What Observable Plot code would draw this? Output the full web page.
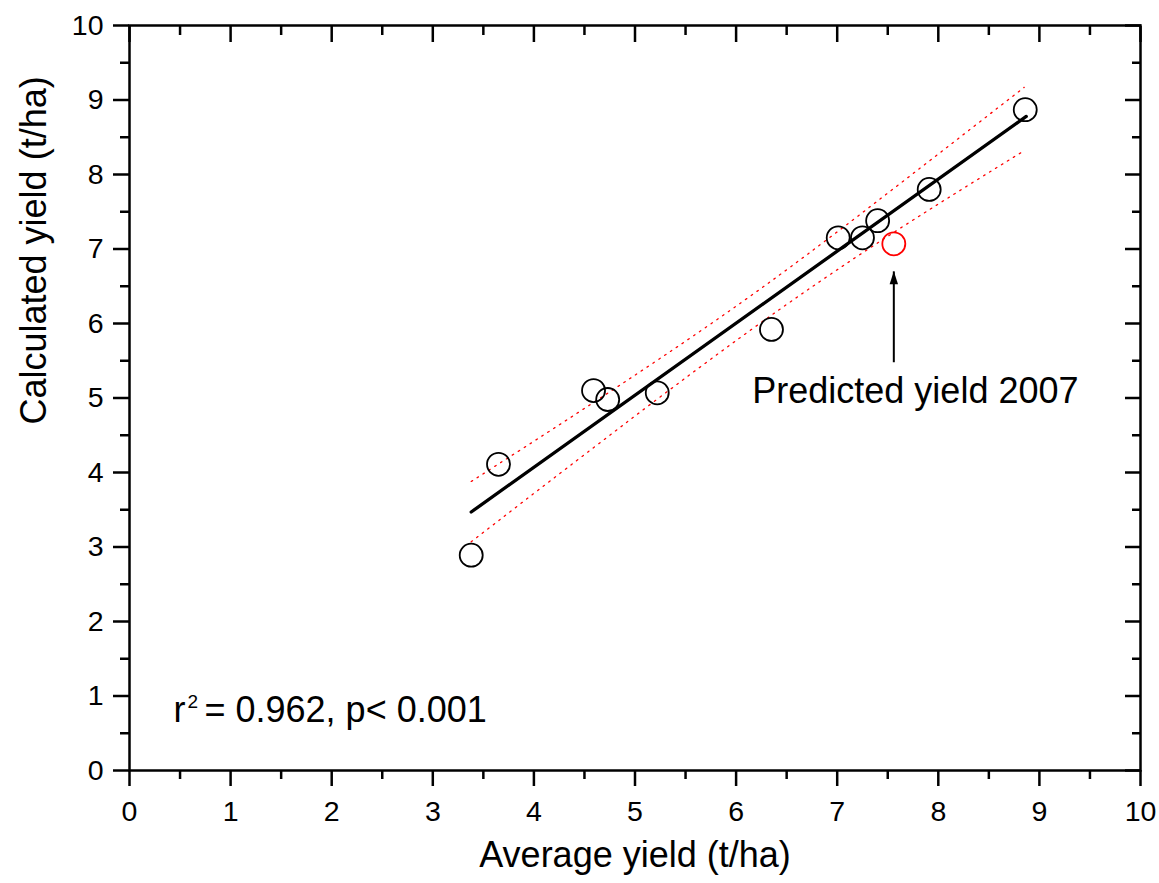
<!DOCTYPE html>
<html><head><meta charset="utf-8">
<script src="https://cdn.jsdelivr.net/npm/d3@7"></script>
<script src="https://cdn.jsdelivr.net/npm/@observablehq/plot@0.6"></script>
<style>body{margin:0;background:#fff}</style>
</head><body><div id="chart"></div>
<script>
// Observed data (t/ha)
const avgYield  = [3.38, 3.65, 4.59, 4.73, 5.22, 6.35, 7.01, 7.25, 7.40, 7.91, 8.86];
const calcYield = [2.89, 4.11, 5.10, 4.98, 5.07, 5.92, 7.15, 7.15, 7.38, 7.80, 8.87];
// Predicted 2007
const predX = [7.56];
const predY = [7.07];
// Regression line
const fitX = [3.38, 8.87];
const fitY = [3.47, 8.78];
// Confidence band
const bandX     = [3.38, 4.50, 6.05, 7.50, 8.85];
const bandUpper = [3.88, 4.86, 6.28, 7.75, 9.17];
const bandLower = [3.07, 4.24, 5.82, 7.17, 8.32];
// Annotation
const arrowX = [7.56], arrowFrom = [5.48], arrowTo = [6.70];
const annotText = ["Predicted yield 2007"];
const annotX = [6.16], annotY = [5.09];
const statText = ["r", "2", "= 0.962, p< 0.001"];
// Ticks
const majorTicks = [0, 1, 2, 3, 4, 5, 6, 7, 8, 9, 10];
const minorTicks = [0.5, 1.5, 2.5, 3.5, 4.5, 5.5, 6.5, 7.5, 8.5, 9.5];
const xTitle = "Average yield (t/ha)";
const yTitle = "Calculated yield (t/ha)";

const points = avgYield.map((x, i) => ({x, y: calcYield[i]}));
const pred = predX.map((x, i) => ({x, y: predY[i]}));
const fit = fitX.map((x, i) => ({x, y: fitY[i]}));
const band = bandX.map((x, i) => ({x, hi: bandUpper[i], lo: bandLower[i]}));
const arrows = arrowX.map((x, i) => ({x, y1: arrowFrom[i], y2: arrowTo[i]}));
const annots = annotText.map((t, i) => ({t, x: annotX[i], y: annotY[i]}));

const headSymbol = {
  draw(ctx) { ctx.moveTo(0, 0); ctx.lineTo(4.2, 13); ctx.lineTo(-4.2, 13); ctx.closePath(); }
};
const blank = () => "";
const plain = d => String(d);
const SW = 2.5;
const TF = 28.5;

const chart = Plot.plot({
  width: 1159,
  height: 883,
  marginLeft: 129,
  marginRight: 19,
  marginTop: 25,
  marginBottom: 113,
  style: {fontFamily: "'Liberation Sans', Arial, sans-serif", fontSize: TF + "px", color: "black", background: "white"},
  x: {domain: [0, 10]},
  y: {domain: [0, 10]},
  marks: [
    Plot.line(band, {x: "x", y: "hi", curve: "natural", stroke: "#ff0000", strokeWidth: 1.3, strokeDasharray: "1.6,5.4"}),
    Plot.line(band, {x: "x", y: "lo", curve: "natural", stroke: "#ff0000", strokeWidth: 1.3, strokeDasharray: "1.6,5.4"}),
    Plot.line(fit, {x: "x", y: "y", stroke: "black", strokeWidth: 3.3, strokeLinecap: "round"}),
    Plot.dot(points, {x: "x", y: "y", r: 11.5, stroke: "black", strokeWidth: 1.8, fill: "none"}),
    Plot.dot(pred, {x: "x", y: "y", r: 11.5, stroke: "#ff0000", strokeWidth: 1.8, fill: "none"}),
    Plot.link(arrows, {x1: "x", x2: "x", y1: "y1", y2: "y2", stroke: "black", strokeWidth: 2}),
    Plot.dot(arrows, {x: "x", y: "y2", symbol: headSymbol, fill: "black", stroke: "none"}),
    Plot.text(annots, {x: "x", y: "y", text: "t", textAnchor: "start", fontSize: 36}),
    Plot.text([statText[0]], {frameAnchor: "bottom-left", dx: 44, dy: -48.5, textAnchor: "start", fontSize: 36, text: d => d}),
    Plot.text([statText[1]], {frameAnchor: "bottom-left", dx: 58, dy: -62.5, textAnchor: "start", fontSize: 19, text: d => d}),
    Plot.text([statText[2]], {frameAnchor: "bottom-left", dx: 75, dy: -48.5, textAnchor: "start", fontSize: 36, text: d => d}),
    Plot.text([xTitle], {frameAnchor: "bottom", dy: 96, fontSize: 36, text: d => d}),
    Plot.text([yTitle], {frameAnchor: "left", rotate: -90, dx: -95.5, dy: 26.5, fontSize: 36, text: d => d}),
    Plot.axisX(majorTicks, {anchor: "bottom", tickSize: 16, tickPadding: 14, strokeWidth: SW, fontSize: TF, tickFormat: plain, label: null}),
    Plot.axisX(minorTicks, {anchor: "bottom", tickSize: 9, strokeWidth: SW, tickFormat: blank, label: null}),
    Plot.axisX(majorTicks, {anchor: "top", tickSize: -16, strokeWidth: SW, tickFormat: blank, label: null}),
    Plot.axisX(minorTicks, {anchor: "top", tickSize: -9, strokeWidth: SW, tickFormat: blank, label: null}),
    Plot.axisY(majorTicks, {anchor: "left", tickSize: 16, tickPadding: 10, strokeWidth: SW, fontSize: TF, tickFormat: plain, label: null}),
    Plot.axisY(minorTicks, {anchor: "left", tickSize: 9, strokeWidth: SW, tickFormat: blank, label: null}),
    Plot.axisY(majorTicks, {anchor: "right", tickSize: -16, strokeWidth: SW, tickFormat: blank, label: null}),
    Plot.axisY(minorTicks, {anchor: "right", tickSize: -9, strokeWidth: SW, tickFormat: blank, label: null}),
    Plot.frame({stroke: "black", strokeWidth: SW})
  ]
});
document.getElementById("chart").appendChild(chart);
</script>
</body></html>
